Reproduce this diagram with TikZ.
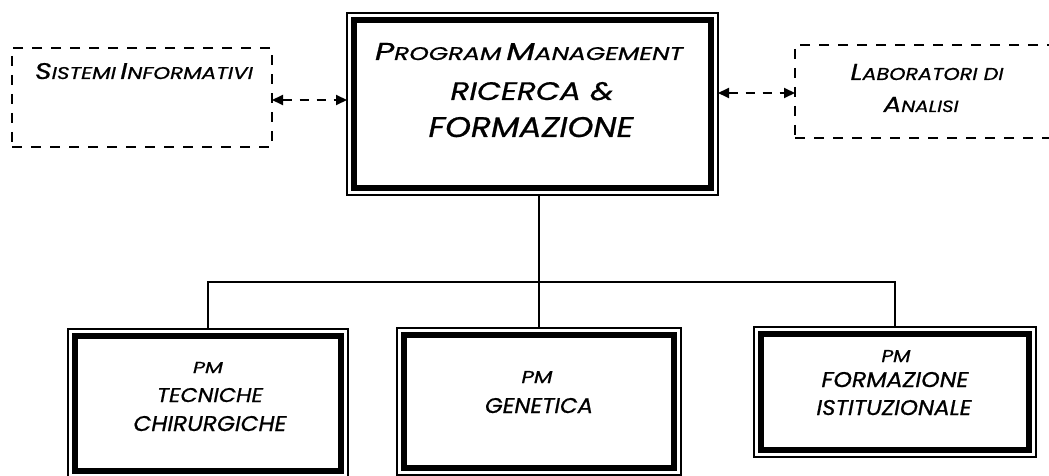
\documentclass[tikz,border=0pt]{standalone}
\usepackage{fontspec}
\usepackage{graphicx}
\setmainfont{Poppins}[FakeBold=0.7]
\usetikzlibrary{arrows.meta}

% one line of lettering set to a given width and cap height
\newcommand\fitline[3]{\resizebox{#1pt}{#2pt}{\itshape #3}}
% small caps faked with two sizes
\newcommand\capL[1]{{\fontsize{20}{24}\selectfont #1}}
\newcommand\capS[1]{{\fontsize{15}{24}\selectfont #1}}

\tikzset{
  frame/.style={draw, line width=1.4pt, inner sep=0pt, outer sep=0pt},
  inframe/.style={draw, line width=6.5pt},
  dashbox/.style={draw, line width=2pt, dash pattern=on 10pt off 9pt,
    inner sep=0pt, outer sep=0pt},
  link/.style={line width=1.5pt},
  twoway/.style={line width=2pt, dash pattern=on 9pt off 8pt,
    {Triangle[length=11pt,width=10pt]}-{Triangle[length=11pt,width=10pt]}},
  txt/.style={anchor=base, inner sep=0pt},
}

\begin{document}
\begin{tikzpicture}[x=1pt,y=-1pt]
\useasboundingbox (0,0) rectangle (1049,476);

% main programme box (outer thin frame) and the three programme boxes
\node[frame, minimum width=371pt, minimum height=182pt] (main) at (532.5,104) {};
\node[frame, minimum width=280pt, minimum height=149pt] (tec) at (208,403.5) {};
\node[frame, minimum width=284pt, minimum height=147pt] (gen) at (539,401.5) {};
\node[frame, minimum width=282pt, minimum height=130pt] (for) at (895,392) {};

% thick inner frames
\foreach \n in {main,tec,gen,for}
  \draw[inframe] ([shift={(7pt,-7pt)}]\n.north west)
     rectangle ([shift={(-7pt,7pt)}]\n.south east);

% dashed side boxes
\node[dashbox, minimum width=260pt, minimum height=99pt] (sis) at (142,97.5) {};
\node[dashbox, minimum width=265pt, minimum height=93pt] (lab) at (927.5,91.5) {};

% lettering of the main box
\node[txt] (main1) at (529,60)
  {\fitline{308}{17}{\capL{P}\capS{ROGRAM} \capL{M}\capS{ANAGEMENT}}};
\node[txt] (main2) at (532,100) {\fitline{163}{18}{RICERCA \&}};
\node[txt] (main3) at (531,137) {\fitline{205}{20}{FORMAZIONE}};

% lettering of the side boxes
\node[txt] (sis1) at (144,79)
  {\fitline{218}{16}{\capL{S}\capS{ISTEMI} \capL{I}\capS{NFORMATIVI}}};
\node[txt] (lab1) at (927,80)
  {\fitline{153}{16}{\capL{L}\capS{ABORATORI DI}}};
\node[txt] (lab2) at (921,112) {\fitline{75}{15}{\capL{A}\capS{NALISI}}};

% lettering of the programme boxes
\node[txt] (tec1) at (208,373) {\fitline{30}{11}{PM}};
\node[txt] (tec2) at (210,402) {\fitline{106}{14}{TECNICHE}};
\node[txt] (tec3) at (210,431) {\fitline{153}{15}{CHIRURGICHE}};
\node[txt] (gen1) at (537,383) {\fitline{31}{12}{PM}};
\node[txt] (gen2) at (539,413) {\fitline{108}{15}{GENETICA}};
\node[txt] (for1) at (896,362) {\fitline{29}{12}{PM}};
\node[txt] (for2) at (895,387) {\fitline{147}{15}{FORMAZIONE}};
\node[txt] (for3) at (894,415) {\fitline{155}{15}{ISTITUZIONALE}};

% hierarchy connectors
\coordinate (bus) at (539,282);
\draw[link] (gen.north) -- (gen.north |- main.south);
\draw[link] (tec.north) |- (bus) -| (for.north);

% two-way dashed links to the side boxes
\draw[twoway] ([yshift=-2.5pt]sis.east) -- ([yshift=-2.5pt]sis.east -| main.west);
\draw[twoway] ([yshift=-1.5pt]main.east |- lab.west) -- ([yshift=-1.5pt]lab.west);
\end{tikzpicture}
\end{document}
